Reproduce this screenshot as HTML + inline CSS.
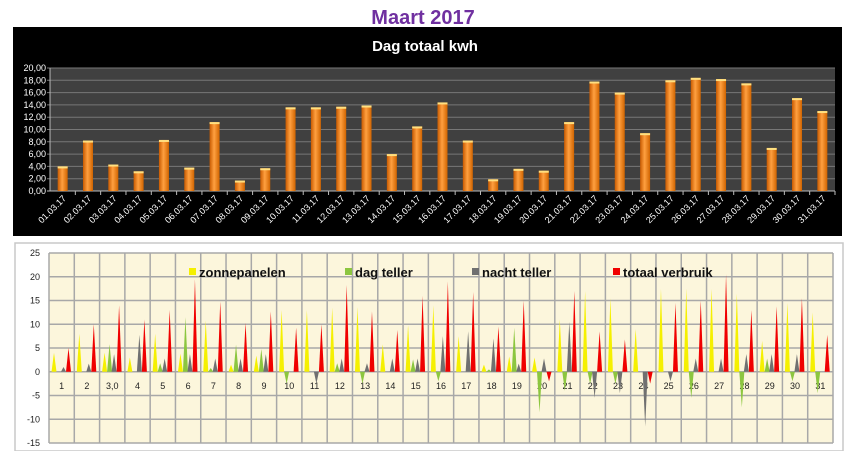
<!DOCTYPE html>
<html><head><meta charset="utf-8"><style>
html,body{margin:0;padding:0;background:#fff;width:850px;height:451px;overflow:hidden;font-family:"Liberation Sans",sans-serif}
</style></head><body>
<svg id="svg" width="850" height="451" xmlns="http://www.w3.org/2000/svg">
<defs>
<linearGradient id="og" x1="0" x2="1" y1="0" y2="0"><stop offset="0" stop-color="#c85a00"/><stop offset="0.45" stop-color="#ffa040"/><stop offset="1" stop-color="#d06400"/></linearGradient>
</defs>
<text x="423" y="24" text-anchor="middle" font-size="20" font-weight="bold" fill="#7030a0">Maart 2017</text>
<rect x="13" y="27" width="829" height="209" fill="#000"/>
<text x="425" y="51" text-anchor="middle" font-size="15" font-weight="bold" fill="#fff">Dag totaal kwh</text>
<rect x="50" y="68" width="785" height="123" fill="#404040"/>
<g id="topg"></g>
<rect x="15" y="243" width="828" height="208" fill="#fff" stroke="#c8c8c8" stroke-width="1.5"/>
<rect x="49" y="253" width="784" height="190" fill="#fcf6dc"/>
<g id="botg"></g>
</svg>
<script>
const days=["01.03.17","02.03.17","03.03.17","04.03.17","05.03.17","06.03.17","07.03.17","08.03.17","09.03.17","10.03.17","11.03.17","12.03.17","13.03.17","14.03.17","15.03.17","16.03.17","17.03.17","18.03.17","19.03.17","20.03.17","21.03.17","22.03.17","23.03.17","24.03.17","25.03.17","26.03.17","27.03.17","28.03.17","29.03.17","30.03.17","31.03.17"];
const totals=[4.0,8.2,4.3,3.2,8.3,3.8,11.2,1.7,3.7,13.6,13.6,13.7,13.9,6.0,10.5,14.4,8.2,1.9,3.6,3.3,11.2,17.8,16.0,9.4,18.0,18.4,18.2,17.5,7.0,15.1,13.0];
const topTicks=["0,00","2,00","4,00","6,00","8,00","10,00","12,00","14,00","16,00","18,00","20,00"];
const catLabels=["1","2","3,0","4","5","6","7","8","9","10","11","12","13","14","15","16","17","18","19","20","21","22","23","24","25","26","27","28","29","30","31"];
const zon=[4,8,4,3,8,3.8,10.8,1.5,3.4,13,13,13.5,13.6,5.8,9.8,14,7.5,1.5,3.2,3,11,17,15.5,9,17.5,17.5,17.5,16.5,6.5,14.5,12.5];
const dag=[0,0,5.8,0,1.8,11.5,0.8,5.7,4.8,-2.5,0,1.8,-2.5,0,2.6,-2,0,0.5,9.3,-8.5,-4,-2.5,-2.5,0,0,-5.5,0,-7.5,2.8,-2,-4.5];
const nacht=[1,1.7,3.7,7.8,2.8,3.7,2.8,2.8,3.7,0,-2.5,2.8,1.8,2.8,2.8,7.5,8.5,7,1.7,2.8,10.5,-5.5,-4.5,-11.5,-2,2.8,2.8,3.7,3.7,3.7,0];
const verbruik=[5,10,14,11,13,19.5,14.8,10.3,12.7,9.3,10,18.3,12.7,8.8,16,19,16.8,9.5,15,-2,17,8.5,6.8,-2.5,14.5,15,20.5,13,13.8,15.5,7.8];
const botTicks=[-15,-10,-5,0,5,10,15,20,25];
const NS="http://www.w3.org/2000/svg";
function mk(p,t,a){const e=document.createElementNS(NS,t);for(const k in a)e.setAttribute(k,a[k]);p.appendChild(e);return e;}
const topG=document.getElementById('topg');
const tx0=50,tw=785,ty0=191,th=123,tmax=20;
const tcw=tw/days.length;
const tY=v=>ty0-v/tmax*th;
topTicks.forEach((t,i)=>{const v=i*2;const y=tY(v);
 const l=mk(topG,'line',{x1:tx0-3,x2:tx0+tw,y1:y,y2:y,stroke:i==0?'#bbb':'#777','stroke-width':1});
 
 
 const tt=mk(topG,'text',{x:46,y:y+3,'text-anchor':'end','font-size':9,fill:'#fff'});tt.textContent=t;
 
 
});
mk(topG,'line',{x1:tx0,x2:tx0,y1:68,y2:ty0,stroke:'#bbb'});
days.forEach((d,i)=>{const cx=tx0+tcw*(i+0.5);const v=totals[i];
 const tk=mk(topG,'line',{x1:tx0+tcw*(i+1),x2:tx0+tcw*(i+1),y1:ty0,y2:ty0+4,stroke:'#bbb'});
 
 
 const b=mk(topG,'rect',{x:cx-5,y:tY(v),width:10,height:ty0-tY(v),fill:'url(#og)'});
 
 
 mk(topG,'rect',{x:cx-5,y:tY(v),width:10,height:2,fill:'#ffe080'});
 const t=mk(topG,'text',{x:cx+4,y:ty0+8,'text-anchor':'end','font-size':9,fill:'#fff',transform:`rotate(-45 ${cx+4} ${ty0+8})`});t.textContent=d;
 
 
});
const botG=document.getElementById('botg');
const bx0=49,bw=784,by0=253,bh=190,bmin=-15,bmax=25;
const bcw=bw/catLabels.length;
const bY=v=>by0+(bmax-v)/(bmax-bmin)*bh;
botTicks.forEach(v=>{const y=bY(v);
 const l=mk(botG,'line',{x1:bx0,x2:bx0+bw,y1:y,y2:y,stroke:'#a8a8a8','stroke-width':1.5});
 
 
 const t=mk(botG,'text',{x:40,y:y+3,'text-anchor':'end','font-size':9,fill:'#222'});t.textContent=v;
 
 
});
for(let i=0;i<=catLabels.length;i++){const x=bx0+bcw*i;
 const l=mk(botG,'line',{x1:x,x2:x,y1:by0,y2:by0+bh,stroke:'#a8a8a8','stroke-width':1.5});
 
 
}
const series=[[zon,'#f5f000',5,'zonnepanelen'],[dag,'#8cc63f',10,'dag-teller'],[nacht,'#707070',14.5,'nacht-teller'],[verbruik,'#f00000',19.5,'totaal-verbruik']];
const z=bY(0);
catLabels.forEach((c,i)=>{const x0=bx0+bcw*i;
 const t=mk(botG,'text',{x:x0+bcw/2,y:389,'text-anchor':'middle','font-size':9,fill:'#222'});t.textContent=c;
 
 
 series.forEach(s=>{const v=s[0][i];if(v===0)return;const cx=x0+s[2];
  const p=mk(botG,'polygon',{points:`${cx-2.5},${z} ${cx+2.5},${z} ${cx},${bY(v)}`,fill:s[1]});
  
  
 });
});
const leg=[['zonnepanelen','#f5f000',189],['dag teller','#8cc63f',345],['nacht teller','#707070',472],['totaal verbruik','#f00000',613]];
leg.forEach(l=>{
 const r=mk(botG,'rect',{x:l[2],y:268,width:7,height:7,fill:l[1]});
 
 
 const t=mk(botG,'text',{x:l[2]+10,y:277,'font-size':13,'font-weight':'bold',fill:'#111'});t.textContent=l[0];
 
 
});
</script>
</body></html>
